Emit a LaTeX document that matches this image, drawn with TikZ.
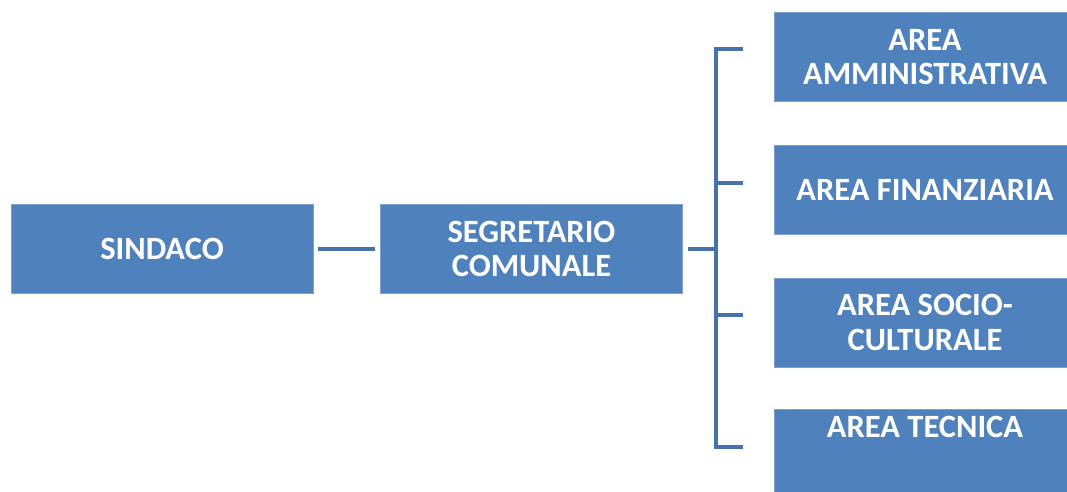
\documentclass[tikz,border=0pt]{standalone}
\usepackage{fontspec}
\setmainfont{Carlito}
\definecolor{boxfill}{HTML}{4F81BD}
\definecolor{boxedge}{HTML}{7B9FCF}
\definecolor{linecol}{HTML}{4672AA}
\begin{document}
\begin{tikzpicture}[x=1pt,y=-1pt,
  orgbox/.style={rectangle, fill=boxfill, draw=boxedge, line width=0.8pt,
    minimum width=302pt, minimum height=89pt, inner sep=0pt,
    text=white, align=center, font=\fontsize{32.5}{34.5}\selectfont\bfseries},
  boxtext/.style={text=white, inner sep=0pt, font=\fontsize{32.5}{34.5}\selectfont\bfseries},
  conn/.style={draw=linecol, line width=4pt}]
\useasboundingbox (0,0) rectangle (1067,491);
\node[orgbox] (sindaco) at (162,249) {SINDACO};
\node[orgbox] (segr) at (531.5,249) {SEGRETARIO\\COMUNALE};
\node[orgbox] (amm) at (925,57) {AREA\\AMMINISTRATIVA};
\node[orgbox] (fin) at (925,190) {AREA FINANZIARIA};
\node[orgbox] (soc) at (925,322.5) {AREA SOCIO-\\CULTURALE};
\node[orgbox] (tec) at (925,453.5) {};
\node[boxtext] (tectext) at (925,427) {AREA TECNICA};
\coordinate (sL) at (318,249);
\coordinate (sR) at (375,249);
\coordinate (j0) at (688,249);
\coordinate (jm) at (716,249);
\coordinate (t1) at (716,49);
\coordinate (b1) at (743,49);
\coordinate (t2) at (716,183);
\coordinate (b2) at (743,183);
\coordinate (t3) at (716,315);
\coordinate (b3) at (743,315);
\coordinate (t4) at (716,447);
\coordinate (b4) at (743,447);
\draw[conn] (sL) -- (sR);
\draw[conn] (j0) -- (jm);
\draw[conn, line join=miter] (b1) -- (t1) -- (t4) -- (b4);
\draw[conn] (t2) -- (b2);
\draw[conn] (t3) -- (b3);
\end{tikzpicture}
\end{document}
